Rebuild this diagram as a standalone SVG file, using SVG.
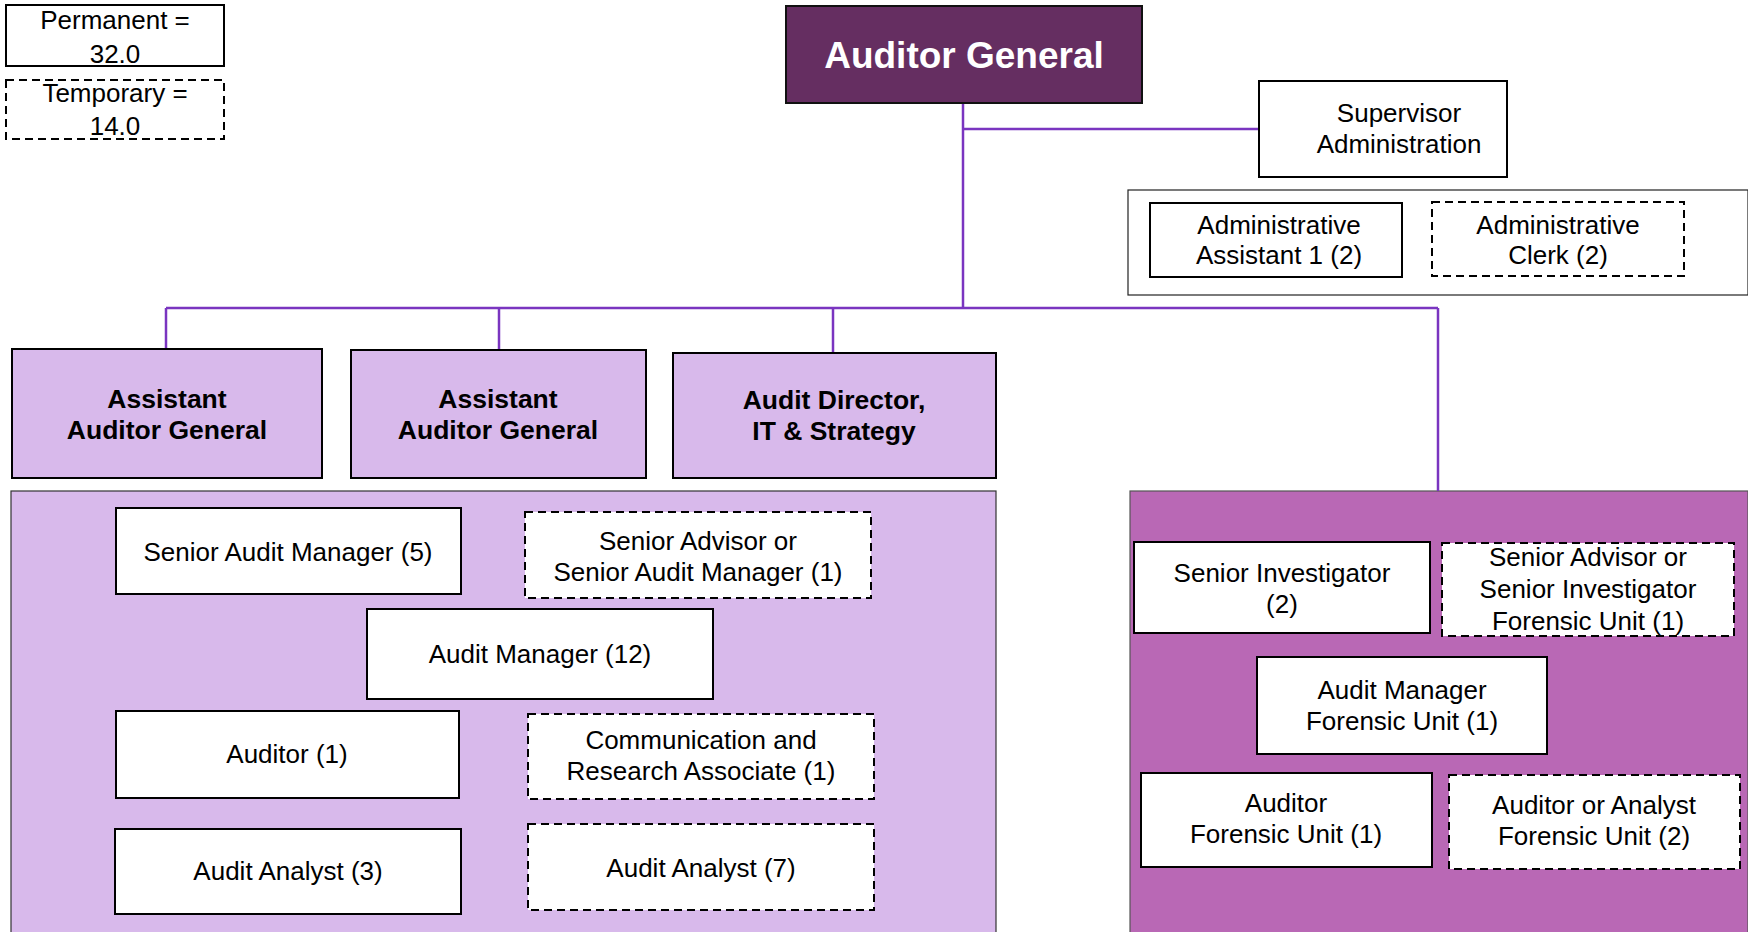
<svg xmlns="http://www.w3.org/2000/svg" width="1748" height="932" viewBox="0 0 1748 932">
  <style>
    text { font-family: "Liberation Sans", Arial, sans-serif; fill: #000; text-anchor: middle; }
    .t { font-size: 26px; }
    .tb { font-size: 26.5px; font-weight: bold; }
    .box { fill: #fff; stroke: #000; stroke-width: 2; }
    .dash { fill: #fff; stroke: #000; stroke-width: 2; stroke-dasharray: 8 5; }
    .lead { fill: #d8b9eb; stroke: #000; stroke-width: 2; }
    .wire { fill: none; stroke: #7a35c0; stroke-width: 2.5; }
  </style>

  <!-- legend -->
  <g id="legend-permanent">
    <rect class="box" x="6" y="5" width="218" height="61"/>
    <text class="t" x="115" y="29">Permanent =</text>
    <text class="t" x="115" y="63">32.0</text>
  </g>
  <g id="legend-temporary">
    <rect class="dash" x="6" y="80" width="218" height="59"/>
    <text class="t" x="115" y="102">Temporary =</text>
    <text class="t" x="115" y="135">14.0</text>
  </g>

  <!-- group panels -->
  <g id="panel-audit">
    <rect x="11" y="491" width="985" height="445" fill="#d8b9eb" stroke="#333" stroke-width="1.2"/>
  </g>
  <g id="panel-forensic">
    <rect x="1130" y="491" width="618" height="445" fill="#b968b5" stroke="#555" stroke-width="1.2"/>
  </g>
  <g id="panel-admin">
    <rect x="1128" y="190" width="620" height="105" fill="#fff" stroke="#222" stroke-width="1.2"/>
  </g>

  <!-- reporting lines -->
  <g id="connectors">
    <path class="wire" d="M963,103 V308"/>
    <path class="wire" d="M963,129 H1259"/>
    <path class="wire" d="M166,308 H1438"/>
    <path class="wire" d="M166,308 V349"/>
    <path class="wire" d="M499,308 V350"/>
    <path class="wire" d="M833,308 V353"/>
    <path class="wire" d="M1438,308 V491"/>
  </g>

  <!-- top -->
  <g id="auditor-general">
    <rect x="786" y="6" width="356" height="97" fill="#652e61" stroke="#111" stroke-width="2"/>
    <text x="964" y="68" style="font-size:37px;font-weight:bold;fill:#fff">Auditor General</text>
  </g>
  <g id="supervisor-admin">
    <rect class="box" x="1259" y="81" width="248" height="96"/>
    <text class="t" x="1399" y="122">Supervisor</text>
    <text class="t" x="1399" y="153">Administration</text>
  </g>
  <g id="admin-assistant">
    <rect class="box" x="1150" y="203" width="252" height="74"/>
    <text class="t" x="1279" y="234">Administrative</text>
    <text class="t" x="1279" y="264">Assistant 1 (2)</text>
  </g>
  <g id="admin-clerk">
    <rect class="dash" x="1432" y="202" width="252" height="74"/>
    <text class="t" x="1558" y="234">Administrative</text>
    <text class="t" x="1558" y="264">Clerk (2)</text>
  </g>

  <!-- second level -->
  <g id="aag-1">
    <rect class="lead" x="12" y="349" width="310" height="129"/>
    <text class="tb" x="167" y="408">Assistant</text>
    <text class="tb" x="167" y="439">Auditor General</text>
  </g>
  <g id="aag-2">
    <rect class="lead" x="351" y="350" width="295" height="128"/>
    <text class="tb" x="498" y="408">Assistant</text>
    <text class="tb" x="498" y="439">Auditor General</text>
  </g>
  <g id="audit-director">
    <rect class="lead" x="673" y="353" width="323" height="125"/>
    <text class="tb" x="834" y="409">Audit Director,</text>
    <text class="tb" x="834" y="440">IT &amp; Strategy</text>
  </g>

  <!-- audit staff -->
  <g id="senior-audit-manager">
    <rect class="box" x="116" y="508" width="345" height="86"/>
    <text class="t" x="288" y="561">Senior Audit Manager (5)</text>
  </g>
  <g id="senior-advisor-sam">
    <rect class="dash" x="525" y="512" width="346" height="86"/>
    <text class="t" x="698" y="550">Senior Advisor or</text>
    <text class="t" x="698" y="581">Senior Audit Manager (1)</text>
  </g>
  <g id="audit-manager">
    <rect class="box" x="367" y="609" width="346" height="90"/>
    <text class="t" x="540" y="663">Audit Manager (12)</text>
  </g>
  <g id="auditor">
    <rect class="box" x="116" y="711" width="343" height="87"/>
    <text class="t" x="287" y="763">Auditor (1)</text>
  </g>
  <g id="comm-research">
    <rect class="dash" x="528" y="714" width="346" height="85"/>
    <text class="t" x="701" y="749">Communication and</text>
    <text class="t" x="701" y="780">Research Associate (1)</text>
  </g>
  <g id="audit-analyst-perm">
    <rect class="box" x="115" y="829" width="346" height="85"/>
    <text class="t" x="288" y="880">Audit Analyst (3)</text>
  </g>
  <g id="audit-analyst-temp">
    <rect class="dash" x="528" y="824" width="346" height="86"/>
    <text class="t" x="701" y="877">Audit Analyst (7)</text>
  </g>

  <!-- forensic unit -->
  <g id="senior-investigator">
    <rect class="box" x="1134" y="542" width="296" height="91"/>
    <text class="t" x="1282" y="582">Senior Investigator</text>
    <text class="t" x="1282" y="613">(2)</text>
  </g>
  <g id="senior-advisor-si">
    <rect class="dash" x="1442" y="543" width="292" height="93"/>
    <text class="t" x="1588" y="566">Senior Advisor or</text>
    <text class="t" x="1588" y="598">Senior Investigator</text>
    <text class="t" x="1588" y="630">Forensic Unit (1)</text>
  </g>
  <g id="audit-manager-fu">
    <rect class="box" x="1257" y="657" width="290" height="97"/>
    <text class="t" x="1402" y="699">Audit Manager</text>
    <text class="t" x="1402" y="730">Forensic Unit (1)</text>
  </g>
  <g id="auditor-fu">
    <rect class="box" x="1141" y="773" width="291" height="94"/>
    <text class="t" x="1286" y="812">Auditor</text>
    <text class="t" x="1286" y="843">Forensic Unit (1)</text>
  </g>
  <g id="auditor-analyst-fu">
    <rect class="dash" x="1449" y="775" width="291" height="94"/>
    <text class="t" x="1594" y="814">Auditor or Analyst</text>
    <text class="t" x="1594" y="845">Forensic Unit (2)</text>
  </g>
</svg>
